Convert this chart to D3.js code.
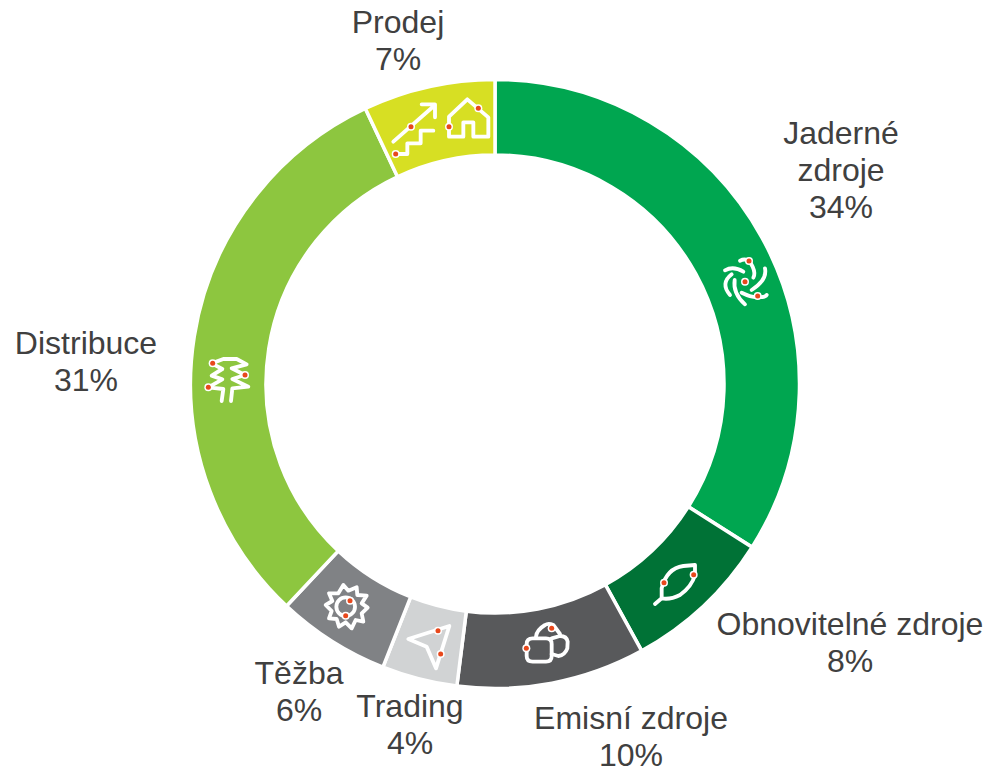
<!DOCTYPE html>
<html><head><meta charset="utf-8">
<style>html,body{margin:0;padding:0;background:#fff}svg{display:block}</style>
<script src="https://cdnjs.cloudflare.com/ajax/libs/d3/7.8.5/d3.min.js"></script>
</head><body><div id="chart"></div>
<script>
const categories=["Jaderné zdroje","Obnovitelné zdroje","Emisní zdroje","Trading","Těžba","Distribuce","Prodej"];
const values=[34,8,10,4,6,31,7];
const colors=["#00A650","#007236","#58595B","#D1D3D4","#808285","#8DC63F","#D7DF23"];
const labelLines=[["Jaderné","zdroje"],["Obnovitelné zdroje"],["Emisní zdroje"],["Trading"],["Těžba"],["Distribuce"],["Prodej"]];
const W=989,H=768,cx=495,cy=384,R=304.5,r=229;
const labelAnchors=[[841,144],[850,635],[631,729],[410,717],[299,684],[86,354],[398,33]];
const lh=37;
const svg=d3.select("#chart").append("svg").attr("width",W).attr("height",H);
const pie=d3.pie().sort(null).value(d=>d);
const arc=d3.arc().innerRadius(r).outerRadius(R);
const g=svg.append("g").attr("transform",`translate(${cx},${cy})`);
g.selectAll("path").data(pie(values)).join("path").attr("d",arc)
 .attr("fill",(d,i)=>colors[i]).attr("stroke","#fff").attr("stroke-width",3.5);
const t=svg.append("g").attr("font-family","'Liberation Sans',Arial,sans-serif").attr("font-size",32).attr("fill","#404040").attr("text-anchor","middle");
categories.forEach((c,i)=>{
  const el=t.append("text").attr("x",labelAnchors[i][0]).attr("y",labelAnchors[i][1]);
  const lines=labelLines[i].concat([values[i]+"%"]);
  lines.forEach((l,j)=>el.append("tspan").attr("x",labelAnchors[i][0]).attr("y",labelAnchors[i][1]+j*lh).text(l));
});
// decorative icons drawn in a local 3x coordinate space
const icons=[
 {o:[380,80],d:["M40,185L165,75M125,73L165,73L165,112","M47,222L82,222L82,190L122,190L122,152L160,152","M207,140L207,110L262,58L325,112L325,170L280,170L280,127L250,127L250,170L207,170Z"],dots:[[93,140],[47,222],[295,85],[207,140]]},
 {o:[710,245],d:["M90,47Q115,35 128,65Q137,85 130,98","M165,70Q172,105 125,135","M95,143Q125,158 145,156Q165,158 170,150","M74,105Q68,145 105,178","M45,76Q70,62 100,80","M65,88Q30,115 60,150"],dots:[[117,48],[105,110],[143,153]]},
 {o:[640,550],d:["M45,162L65,145L65,115Q80,55 130,48L165,45L165,75Q155,110 120,135Q90,150 65,145"],dots:[[72,98],[161,74]]},
 {o:[510,610],d:["M68,85L108,85Q125,85 125,102L125,138Q125,155 108,155L68,155Q50,155 50,138L50,102Q50,85 68,85Z","M125,85L150,78Q170,78 173,95L172,115Q165,135 145,138L125,132","M78,80Q80,60 105,45Q115,38 130,45L150,72"],dots:[[49,115],[125,55]]},
 {o:[400,610],d:["M25,87L148,48L108,175L80,110Z"],dots:[[114,62],[122,132]]},
 {o:[315,575],d:["M85,30L100,47L125,37L127,60L155,62L140,85L158,98L140,115L145,140L122,135L110,160L92,142L72,155L65,132L42,130L50,108L32,90L52,78L42,55L70,55Z","M92,67A28,28 0 1 0 92.1,123A28,28 0 1 0 92,67Z"],dots:[[105,77],[92,122]]},
 {o:[195,345],d:["M50,55L85,42L125,42L155,58L110,70L150,90L112,102L160,125L112,130L108,168","M50,55L82,72L50,92L82,103L40,127L85,132L80,168"],dots:[[53,55],[150,90],[40,127]]}
];
const ig=svg.append("g");
icons.forEach(ic=>{
  const n=ig.append("g").attr("transform",`translate(${ic.o[0]},${ic.o[1]}) scale(${1/3})`);
  ic.d.forEach(p=>n.append("path").attr("d",p).attr("fill","none").attr("stroke","#fff").attr("stroke-width",11.5).attr("stroke-linejoin","round").attr("stroke-linecap","round"));
  ic.dots.forEach(p=>{
    n.append("circle").attr("cx",p[0]).attr("cy",p[1]).attr("r",12).attr("fill","#fff");
    n.append("circle").attr("cx",p[0]).attr("cy",p[1]).attr("r",7.5).attr("fill","#E8481C");
  });
});
</script></body></html>
